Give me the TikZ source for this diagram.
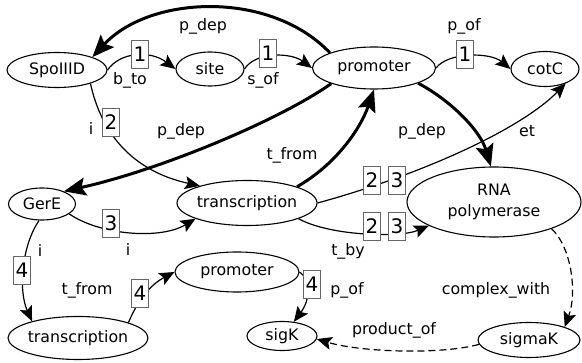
\documentclass[tikz,border=0pt]{standalone}
\usepackage{fontspec}
\setmainfont{DejaVu Sans}
\usetikzlibrary{shapes.geometric,arrows.meta}
\begin{document}
\begin{tikzpicture}[x=1pt,y=-1pt,
  every node/.style={font=\fontsize{15.8}{21}\selectfont},
  ell/.style={draw, ellipse, line width=1.1pt, inner xsep=-6pt, inner ysep=0pt},
  edge/.style={line width=1.2pt, -{Stealth[length=15pt,width=13pt,inset=3pt]}},
  thk/.style={line width=3pt, -{Stealth[length=22pt,width=18pt,inset=4pt]}},
  dsh/.style={line width=1.2pt, dash pattern=on 7pt off 4pt, -{Stealth[length=15pt,width=13pt,inset=3pt]}},
  num/.style={draw=black!60, fill=white, line width=0.9pt, inner sep=0pt, minimum width=17pt, minimum height=28pt, font=\fontsize{20}{22}\selectfont},
  lab/.style={inner sep=0pt}
]
\useasboundingbox (0,0) rectangle (582,363);
% nodes
\node[ell, minimum width=100pt, minimum height=35pt] (spo) at (57,70) {SpoIIID};
\node[ell, minimum width=68pt, minimum height=34pt] (site) at (210,69) {site};
\node[ell, minimum width=123pt, minimum height=42pt] (prom1) at (374,68) {promoter};
\node[ell, minimum width=68pt, minimum height=35pt] (cotc) at (545,69) {cotC};
\node[ell, minimum width=67pt, minimum height=32pt] (gere) at (42,204) {GerE};
\node[ell, minimum width=140pt, minimum height=45pt] (trans1) at (247,203) {transcription};
\node[ell, minimum width=174pt, minimum height=70pt, align=center] (rna) at (494,202) {RNA\\polymerase};
\node[ell, minimum width=124pt, minimum height=40pt] (prom2) at (237,272) {promoter};
\node[ell, minimum width=140pt, minimum height=43pt] (trans2) at (78,338) {transcription};
\node[ell, minimum width=70pt, minimum height=29pt] (sigk) at (282,336) {sigK};
\node[ell, minimum width=102pt, minimum height=35pt] (sigmak) at (529,340) {sigmaK};
% edges
\draw[edge] (spo.east) .. controls (120,52) and (150,50) .. (site.west);
\draw[edge] (site.east) .. controls (255,52) and (290,52) .. (prom1.west);
\draw[edge] (prom1.east) .. controls (448,52) and (490,52) .. (cotc.west);
\draw[thk] (prom1.161) .. controls (270,-10) and (150,-5) .. (spo.20);
\draw[thk] (prom1.200) .. controls (280,120) and (160,170) .. (gere.30);
\draw[edge] (spo.-22) .. controls (105,150) and (150,175) .. (trans1.160);
\draw[thk] (trans1.18) .. controls (335,165) and (360,130) .. (prom1.south);
\draw[thk] (prom1.-19) .. controls (450,100) and (480,130) .. (rna.95);
\draw[edge] (trans1.east) .. controls (420,175) and (520,130) .. (cotc.-35);
\draw[edge] (trans1.-17) .. controls (330,236) and (400,238) .. (rna.200);
\draw[edge] (gere.-20) .. controls (100,235) and (160,240) .. (trans1.197);
\draw[edge] (gere.-100) .. controls (22,245) and (18,290) .. (trans2.160);
\draw[edge] (trans2.17) .. controls (138,300) and (150,285) .. (prom2.west);
\draw[edge] (prom2.east) .. controls (312,280) and (310,300) .. (sigk.50);
\draw[dsh] (rna.-25) .. controls (570,245) and (578,290) .. (sigmak.20);
\draw[dsh] (sigmak.185) .. controls (440,355) and (360,352) .. (sigk.-5);
% number boxes
\node[num] (n1a) at (140,54) {1};
\node[num] (n1b) at (268,53) {1};
\node[num] (n1c) at (465,54) {1};
\node[num] (n2a) at (111,122) {2};
\node[num] (n2u) at (372,180) {2};
\node[num] (n3u) at (397,180) {3};
\node[num] (n2l) at (372,226) {2};
\node[num] (n3l) at (397,226) {3};
\node[num] (n3a) at (111,223) {3};
\node[num] (n4a) at (22,270) {4};
\node[num] (n4b) at (140,293) {4};
\node[num] (n4c) at (312,284) {4};
% labels
\node[lab] (l1) at (203,26) {p\_dep};
\node[lab] (l2) at (130,80) {b\_to};
\node[lab] (l3) at (263,80) {s\_of};
\node[lab] (l4) at (464,26) {p\_of};
\node[lab] (l5) at (91,129) {i};
\node[lab] (l6) at (181,131) {p\_dep};
\node[lab] (l7) at (422,131) {p\_dep};
\node[lab] (l8) at (527,131) {et};
\node[lab] (l9) at (292,155) {t\_from};
\node[lab] (l10) at (348,251) {t\_by};
\node[lab] (l11) at (128,250) {i};
\node[lab] (l12) at (40,251) {i};
\node[lab] (l13) at (87,290) {t\_from};
\node[lab] (l14) at (347,290) {p\_of};
\node[lab] (l15) at (496,290) {complex\_with};
\node[lab] (l16) at (394,330) {product\_of};
\end{tikzpicture}
\end{document}
